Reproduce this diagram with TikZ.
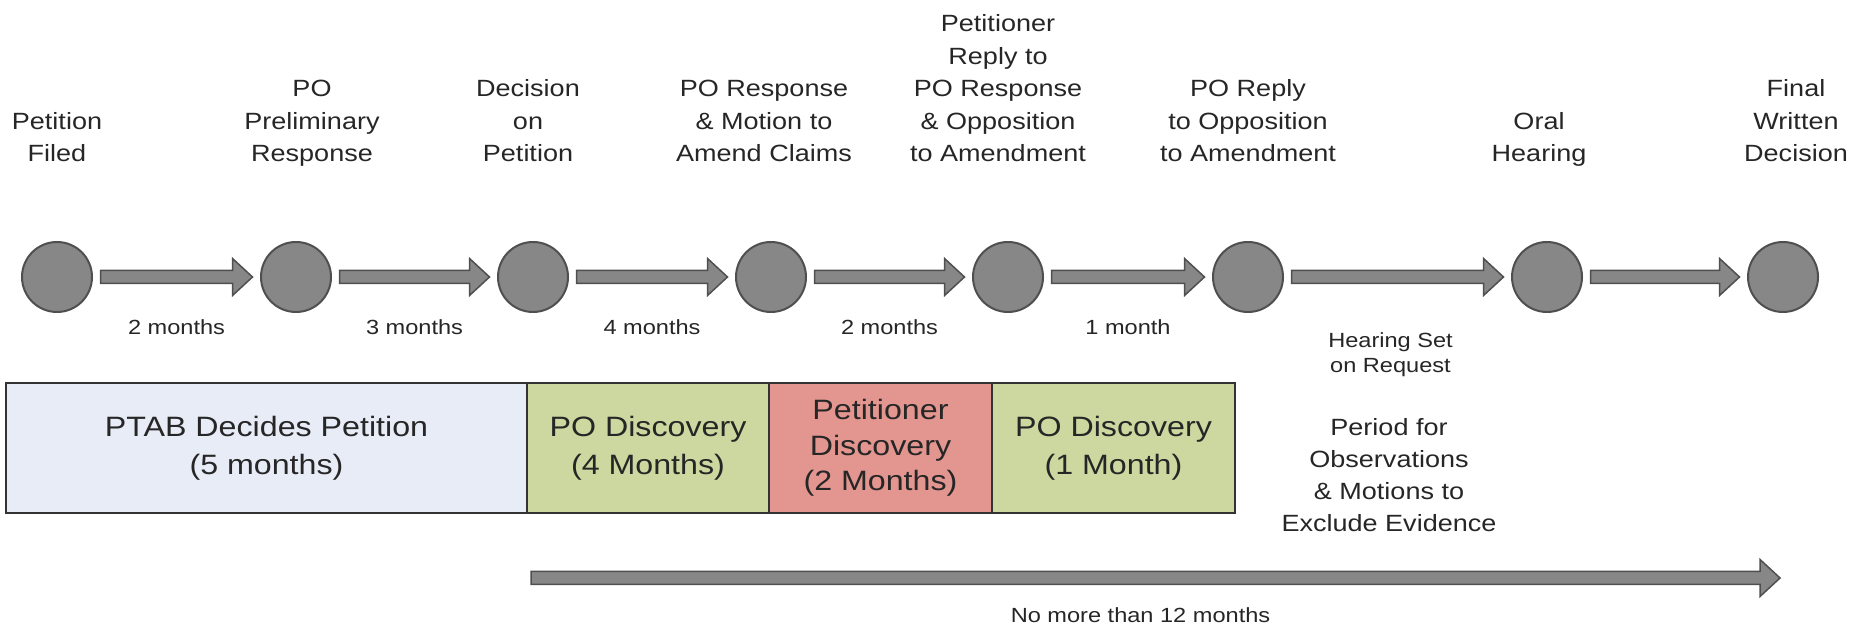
\documentclass[tikz,border=0pt]{standalone}
\usepackage{fontspec}
\setmainfont{Liberation Sans}[FakeStretch=1.15]
\usetikzlibrary{positioning,calc}

\definecolor{dotgray}{HTML}{878787}
\definecolor{edgegray}{HTML}{4F4F4F}
\definecolor{inkgray}{HTML}{262626}
\definecolor{ptabblue}{HTML}{E8ECF7}
\definecolor{discgreen}{HTML}{CDD8A0}
\definecolor{petred}{HTML}{E3968F}

\tikzset{
  fat/.style={draw=edgegray, fill=dotgray, line width=1.5pt, line join=miter,
    to path={([yshift=6.5pt]\tikztostart)
      -- ([xshift=-20pt,yshift=6.5pt]\tikztotarget)
      -- ([xshift=-20pt,yshift=18.5pt]\tikztotarget)
      -- (\tikztotarget)
      -- ([xshift=-20pt,yshift=-18.5pt]\tikztotarget)
      -- ([xshift=-20pt,yshift=-6.5pt]\tikztotarget)
      -- ([yshift=-6.5pt]\tikztostart) -- cycle}},
  phase/.style={draw=black!80, line width=1.5pt, outer sep=0pt, inner sep=0pt,
    minimum height=130pt, align=center, text=inkgray,
    font=\fontsize{28}{38}\selectfont},
  eventlabel/.style={align=center, text=inkgray, inner sep=2pt,
    font=\fontsize{23.5}{32.5}\selectfont},
  gaplabel/.style={align=center, text=inkgray, inner sep=2pt,
    font=\fontsize{20.5}{25}\selectfont}
}

\begin{document}
\begin{tikzpicture}[x=1pt,y=1pt]
  \useasboundingbox (0,0) rectangle (1849,634);

  % milestones
  \begin{scope}[every node/.style={circle,draw=edgegray,fill=dotgray,line width=2pt,
      minimum size=70pt,inner sep=0pt,outer sep=8.5pt}]
    \node (c1) at (57,357) {};
    \node (c2) at (296,357) {};
    \node (c3) at (533,357) {};
    \node (c4) at (771,357) {};
    \node (c5) at (1008,357) {};
    \node (c6) at (1248,357) {};
    \node (c7) at (1547,357) {};
    \node (c8) at (1783,357) {};
  \end{scope}

  \begin{scope}[every node/.style={eventlabel}, node distance=60pt]
    \node[above=of c1] (e1) {Petition\\Filed\strut};
    \node[above=of c2, xshift=16pt] (e2) {PO\\Preliminary\\Response\strut};
    \node[above=of c3, xshift=-5pt] (e3) {Decision\\on\\Petition\strut};
    \node[above=of c4, xshift=-7pt] (e4) {PO Response\\\& Motion to\\Amend Claims\strut};
    \node[above=of c5, xshift=-10pt] (e5) {Petitioner\\Reply to\\PO Response\\\& Opposition\\to Amendment\strut};
    \node[above=of c6] (e6) {PO Reply\\to Opposition\\to Amendment\strut};
    \node[above=of c7, xshift=-8pt] (e7) {Oral\\Hearing\strut};
    \node[above=of c8, xshift=13pt] (e8) {Final\\Written\\Decision\strut};
  \end{scope}

  \path [fat] (c1.east) to (c2.west);
  \path [fat] (c2.east) to (c3.west);
  \path [fat] (c3.east) to (c4.west);
  \path [fat] (c4.east) to (c5.west);
  \path [fat] (c5.east) to (c6.west);
  \path [fat] (c6.east) to (c7.west);
  \path [fat] (c7.east) to (c8.west);

  \begin{scope}[every node/.style={gaplabel}]
    \node (g1) at ($(c1)!0.5!(c2)+(0,-50)$) {2 months};
    \node (g2) at ($(c2)!0.5!(c3)+(0,-50)$) {3 months};
    \node (g3) at ($(c3)!0.5!(c4)+(0,-50)$) {4 months};
    \node (g4) at ($(c4)!0.5!(c5)+(0,-50)$) {2 months};
    \node (g5) at ($(c5)!0.5!(c6)+(0,-50)$) {1 month};
    \node (g6) at ($(c6)!0.5!(c7)+(-7,-77.5)$) {Hearing Set\\on Request};
  \end{scope}

  % phases
  \begin{scope}[every node/.style={phase}]
    \node[fill=ptabblue, minimum width=521pt] (b1) at (266.5,186) {PTAB Decides Petition\\(5 months)};
    \node[fill=discgreen, minimum width=242pt, right=0pt of b1] (b2) {PO Discovery\\(4 Months)};
    \node[fill=petred, minimum width=223pt, right=0pt of b2,
      font=\fontsize{28}{35.5}\selectfont] (b3) {Petitioner\\Discovery\\(2 Months)};
    \node[fill=discgreen, minimum width=243pt, right=0pt of b3] (b4) {PO Discovery\\(1 Month)};
  \end{scope}

  \node[eventlabel, font=\fontsize{23.5}{32}\selectfont] (obs) at (1389,158.5)
    {Period for\\Observations\\\& Motions to\\Exclude Evidence};

  % overall limit
  \coordinate (t0) at (531,56);
  \coordinate (t1) at (1780,56);
  \path [fat] (t0) to (t1);
  \node[gaplabel] (lim) at ($(t0)!0.5!(t1)+(-15,-37)$) {No more than 12 months};
\end{tikzpicture}
\end{document}
